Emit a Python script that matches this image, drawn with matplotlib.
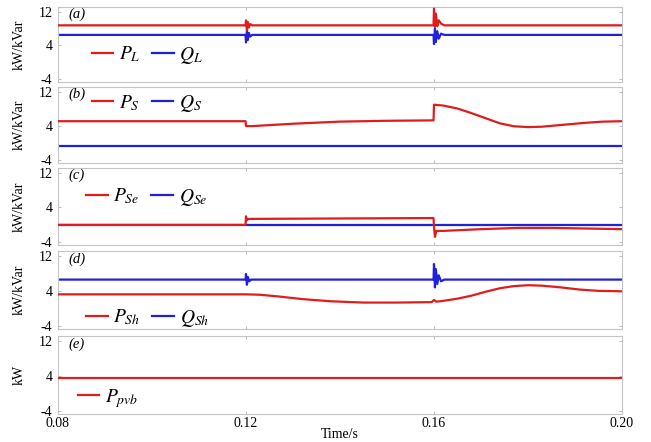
import matplotlib
matplotlib.use("Agg")
import matplotlib.pyplot as plt

plt.rcParams["font.family"] = ["Liberation Serif", "DejaVu Serif"]
plt.rcParams["mathtext.fontset"] = "stix"

RED = "#e01c1c"
BLUE = "#1f22d8"

# (a) load power
PL_t = [0.08, 0.1199, 0.1200, 0.1202, 0.1204, 0.1206, 0.1209, 0.1213, 0.1599, 0.1600, 0.1602, 0.1604, 0.1607, 0.1610, 0.1615, 0.1622, 0.20]
PL_v = [8.8, 8.8, 10.0, 7.6, 9.6, 8.3, 9.1, 8.8, 8.8, 12.8, 8.4, 11.6, 8.6, 10.0, 9.2, 8.8, 8.8]
QL_t = [0.08, 0.1199, 0.1200, 0.1202, 0.1204, 0.1206, 0.1209, 0.1213, 0.1599, 0.1600, 0.1602, 0.1604, 0.1607, 0.1610, 0.1615, 0.1622, 0.20]
QL_v = [6.5, 6.5, 4.7, 7.4, 5.3, 7.0, 6.1, 6.5, 6.5, 4.3, 8.0, 4.8, 7.4, 5.6, 6.8, 6.5, 6.5]

# (b) source power
PS_t = [0.08, 0.1199, 0.1200, 0.1215, 0.1300, 0.1400, 0.1500, 0.1599, 0.1600, 0.1620, 0.1650, 0.1680, 0.1710, 0.1740, 0.1770, 0.1800, 0.1830, 0.1870, 0.1920, 0.1960, 0.2000]
PS_v = [5.1, 5.1, 3.95, 3.95, 4.5, 5.0, 5.2, 5.3, 9.0, 8.8, 8.1, 7.0, 5.8, 4.6, 3.9, 3.7, 3.8, 4.2, 4.7, 5.0, 5.1]
QS_t = [0.08, 0.20]
QS_v = [-0.8, -0.8]

# (c) series converter
PSe_t = [0.08, 0.1199, 0.1200, 0.1202, 0.1205, 0.1400, 0.1599, 0.1600, 0.1602, 0.1605, 0.1620, 0.1700, 0.1780, 0.1850, 0.1950, 0.2000]
PSe_v = [-0.1, -0.1, 1.9, 1.0, 1.3, 1.4, 1.5, -0.6, -2.9, -1.5, -1.5, -1.1, -0.8, -0.8, -1.0, -1.1]
QSe_t = [0.08, 0.20]
QSe_v = [-0.1, -0.1]

# (d) shunt converter
PSh_t = [0.08, 0.1200, 0.1230, 0.1270, 0.1320, 0.1380, 0.1450, 0.1520, 0.1595, 0.1600, 0.1605, 0.1620, 0.1650, 0.1680, 0.1710, 0.1740, 0.1770, 0.1800, 0.1830, 0.1870, 0.1910, 0.1950, 0.2000]
PSh_v = [3.2, 3.2, 3.1, 2.7, 2.1, 1.6, 1.3, 1.3, 1.4, 1.9, 1.5, 1.7, 2.2, 2.9, 3.8, 4.6, 5.1, 5.3, 5.2, 4.8, 4.3, 4.0, 3.9]
QSh_t = [0.08, 0.1199, 0.1200, 0.1202, 0.1204, 0.1207, 0.1211, 0.1599, 0.1600, 0.1602, 0.1604, 0.1607, 0.1610, 0.1615, 0.1622, 0.20]
QSh_v = [6.6, 6.6, 7.9, 5.4, 7.2, 6.2, 6.6, 6.6, 10.2, 4.8, 9.0, 5.6, 7.6, 6.2, 6.6, 6.6]

# (e) PV / battery
Ppvb_t = [0.08, 0.20]
Ppvb_v = [3.5, 3.5]

x_ticks = [0.08, 0.12, 0.16, 0.20]
x_ticklabels = ["0.08", "0.12", "0.16", "0.20"]
y_ticks = [-4, 4, 12]

panels = [
    ("(a)", "kW/kVar", [(PL_t, PL_v, RED, r"$P_{L}$"), (QL_t, QL_v, BLUE, r"$Q_{L}$")], (0.06, 0.36)),
    ("(b)", "kW/kVar", [(PS_t, PS_v, RED, r"$P_{S}$"), (QS_t, QS_v, BLUE, r"$Q_{S}$")], (0.06, 0.78)),
    ("(c)", "kW/kVar", [(PSe_t, PSe_v, RED, r"$P_{Se}$"), (QSe_t, QSe_v, BLUE, r"$Q_{Se}$")], (0.05, 0.62)),
    ("(d)", "kW/kVar", [(PSh_t, PSh_v, RED, r"$P_{Sh}$"), (QSh_t, QSh_v, BLUE, r"$Q_{Sh}$")], (0.05, 0.14)),
    ("(e)", "kW", [(Ppvb_t, Ppvb_v, RED, r"$P_{pvb}$")], (0.035, 0.20)),
]

# panel boxes in pixels (top, bottom)
boxes = [(7, 82), (87, 163), (168, 245), (251, 329), (336, 414)]

fig = plt.figure(figsize=(6.51, 4.42), dpi=100)
W, H = 651, 442
left, right = 58, 622

for i, ((tag, ylab, series, leg_pos), (top, bot)) in enumerate(zip(panels, boxes)):
    ax = fig.add_axes([left / W, 1 - bot / H, (right - left) / W, (bot - top) / H])
    handles = []
    # draw Q first so P stays on top where they overlap
    for t, v, color, label in reversed(series):
        (h,) = ax.plot(t, v, color=color, lw=1.6, label=label, zorder=3 if color == RED else 2)
        handles.insert(0, h)
    ax.set_xlim(0.08, 0.20)
    ax.set_ylim(-4.8, 13.2)
    ax.set_xticks(x_ticks)
    ax.set_yticks(y_ticks)
    ax.set_yticklabels([str(y) for y in y_ticks])
    ax.tick_params(direction="in", length=2.5, width=0.6, color="#b0b0b0",
                   top=True, right=True, labelsize=10)
    if i == len(panels) - 1:
        ax.set_xticklabels(x_ticklabels)
        ax.set_xlabel("Time/s", fontsize=10, labelpad=-2)
        ax.tick_params(axis="x", pad=2.5)
    else:
        ax.set_xticklabels([])
    ax.tick_params(axis="y", pad=4)
    for sp in ax.spines.values():
        sp.set_color("#c4c4c4")
        sp.set_linewidth(0.8)
    ax.set_ylabel(ylab, fontsize=10, labelpad=9)
    ax.text(0.018, 0.9, tag, transform=ax.transAxes, fontsize=10.5,
            style="italic", va="center", ha="left")
    ax.legend(handles=handles, loc="center left", bbox_to_anchor=leg_pos,
              ncol=2, frameon=False, fontsize=14, handlelength=1.1,
              handletextpad=0.3, columnspacing=0.6, borderaxespad=0,
              borderpad=0)

fig.savefig("out.png", dpi=100)
